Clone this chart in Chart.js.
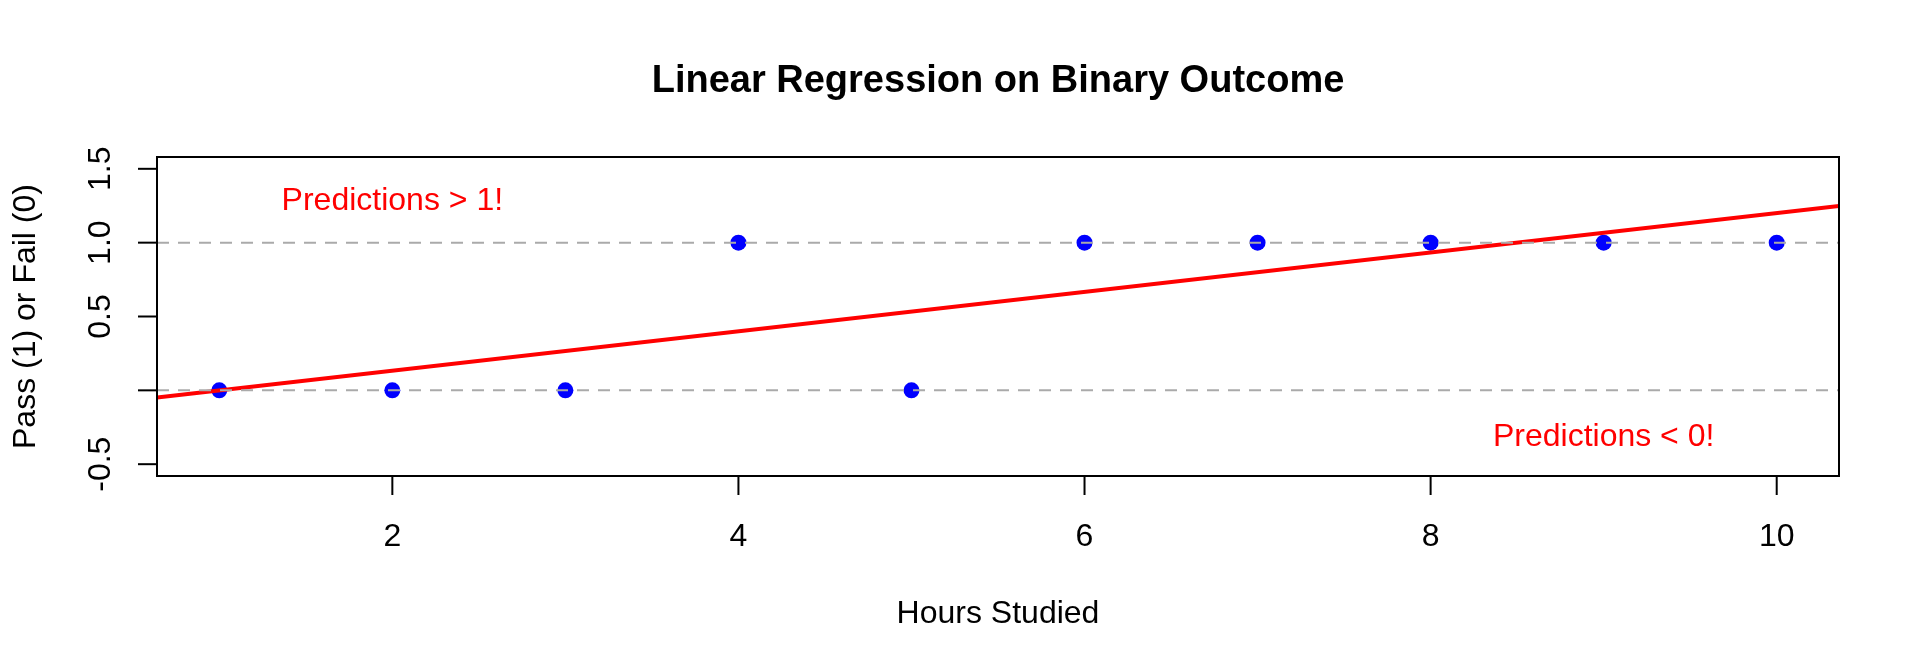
<!DOCTYPE html>
<html>
<head>
<meta charset="utf-8">
<title>Linear Regression on Binary Outcome</title>
<script src="https://cdn.jsdelivr.net/npm/chart.js@4/dist/chart.umd.min.js"></script>
<style>
  html, body { margin: 0; padding: 0; background: #ffffff; }
  #wrap { width: 1920px; height: 672px; position: relative; }
</style>
</head>
<body>
<div id="wrap"><canvas id="cv"></canvas></div>
<script>
// data
const hoursStudied = [1, 2, 3, 4, 5, 6, 7, 8, 9, 10];
const passFail = [0, 0, 0, 1, 0, 1, 1, 1, 1, 1];

// fitted line, read at the left and right edge of the plot
const fitX = [0.64, 10.36];
const fitY = [-0.048, 1.248];

// dashed reference levels
const refLevels = [0, 1];

// axis ticks
const xTickValues = [2, 4, 6, 8, 10];
const xTickLabels = ["2", "4", "6", "8", "10"];
const yTickValues = [-0.5, 0, 0.5, 1, 1.5];
const yTickLabels = ["-0.5", "", "0.5", "1.0", "1.5"];

// red notes inside the plot
const noteTexts = ["Predictions > 1!", "Predictions < 0!"];
const noteX = [2, 9];
const noteY = [1.3, -0.3];

const chartTitle = "Linear Regression on Binary Outcome";
const xTitle = "Hours Studied";
const yTitle = "Pass (1) or Fail (0)";

const FONT = "'Liberation Sans', Arial, Helvetica, sans-serif";
const X_MIN = 0.64, X_MAX = 10.36, Y_MIN = -0.58, Y_MAX = 1.58;

//baseplot-artiger rahmen, ticks und texte
const basePlot = {
    id: "basePlot",
    afterDraw(chart) {
        const ctx = chart.ctx;
        const a = chart.chartArea;
        const xs = chart.scales.x;
        const ys = chart.scales.y;
        const tick = 19;
        const midX = (a.left + a.right) / 2;
        const midY = (a.top + a.bottom) / 2;

        ctx.save();
        ctx.strokeStyle = "#000000";
        ctx.fillStyle = "#000000";
        ctx.lineWidth = 2;

        // box
        ctx.strokeRect(a.left, a.top, a.right - a.left, a.bottom - a.top);

        // x ticks
        ctx.font = "32px " + FONT;
        ctx.textAlign = "center";
        ctx.textBaseline = "alphabetic";
        xs.ticks.forEach((t, i) => {
            const px = xs.getPixelForValue(t.value);
            ctx.beginPath();
            ctx.moveTo(px, a.bottom);
            ctx.lineTo(px, a.bottom + tick);
            ctx.stroke();
            ctx.fillText(xTickLabels[i], px, a.bottom + 70);
        });

        // y ticks (rotated labels)
        ys.ticks.forEach((t, i) => {
            const py = ys.getPixelForValue(t.value);
            ctx.beginPath();
            ctx.moveTo(a.left, py);
            ctx.lineTo(a.left - tick, py);
            ctx.stroke();
            if (yTickLabels[i]) {
                ctx.save();
                ctx.translate(a.left - 47, py);
                ctx.rotate(-Math.PI / 2);
                ctx.fillText(yTickLabels[i], 0, 0);
                ctx.restore();
            }
        });

        // axis titles
        ctx.fillText(xTitle, midX, a.bottom + 147);
        ctx.save();
        ctx.translate(35, midY);
        ctx.rotate(-Math.PI / 2);
        ctx.fillText(yTitle, 0, 0);
        ctx.restore();

        // main title
        ctx.font = "bold 38px " + FONT;
        ctx.fillText(chartTitle, midX, 92);

        // notes
        ctx.font = "32px " + FONT;
        ctx.fillStyle = "#ff0000";
        noteTexts.forEach((txt, i) => {
            ctx.fillText(txt, xs.getPixelForValue(noteX[i]), ys.getPixelForValue(noteY[i]) + 11.5);
        });
        ctx.restore();
    }
};

const refSets = refLevels.map((lvl) => ({
    type: "line",
    data: [{x: X_MIN, y: lvl}, {x: X_MAX, y: lvl}],
    borderColor: "#aaaaaa",
    borderWidth: 2,
    borderDash: [12, 9],
    pointRadius: 0,
    fill: false,
    clip: 0,
    order: 0
}));

const config = {
    type: "scatter",
    data: {
        datasets: [
            ...refSets,
            {
                type: "line",
                data: fitX.map((x, i) => ({x: x, y: fitY[i]})),
                borderColor: "#ff0000",
                borderWidth: 4,
                pointRadius: 0,
                fill: false,
                clip: 0,
                order: 1
            },
            {
                data: hoursStudied.map((x, i) => ({x: x, y: passFail[i]})),
                backgroundColor: "#0000ff",
                borderColor: "#0000ff",
                borderWidth: 0,
                pointRadius: 8,
                order: 2
            }
        ]
    },
    options: {
        responsive: true,
        maintainAspectRatio: false,
        animation: false,
        events: [],
        layout: { padding: { left: 157, top: 157, right: 81, bottom: 196 } },
        plugins: { legend: { display: false }, tooltip: { enabled: false }, title: { display: false } },
        scales: {
            x: {
                type: "linear",
                display: false,
                min: X_MIN,
                max: X_MAX,
                afterBuildTicks: (s) => { s.ticks = xTickValues.map((v) => ({value: v})); }
            },
            y: {
                type: "linear",
                display: false,
                min: Y_MIN,
                max: Y_MAX,
                afterBuildTicks: (s) => { s.ticks = yTickValues.map((v) => ({value: v})); }
            }
        }
    },
    plugins: [basePlot]
};

new Chart(document.getElementById("cv").getContext("2d"), config);
</script>
</body>
</html>
